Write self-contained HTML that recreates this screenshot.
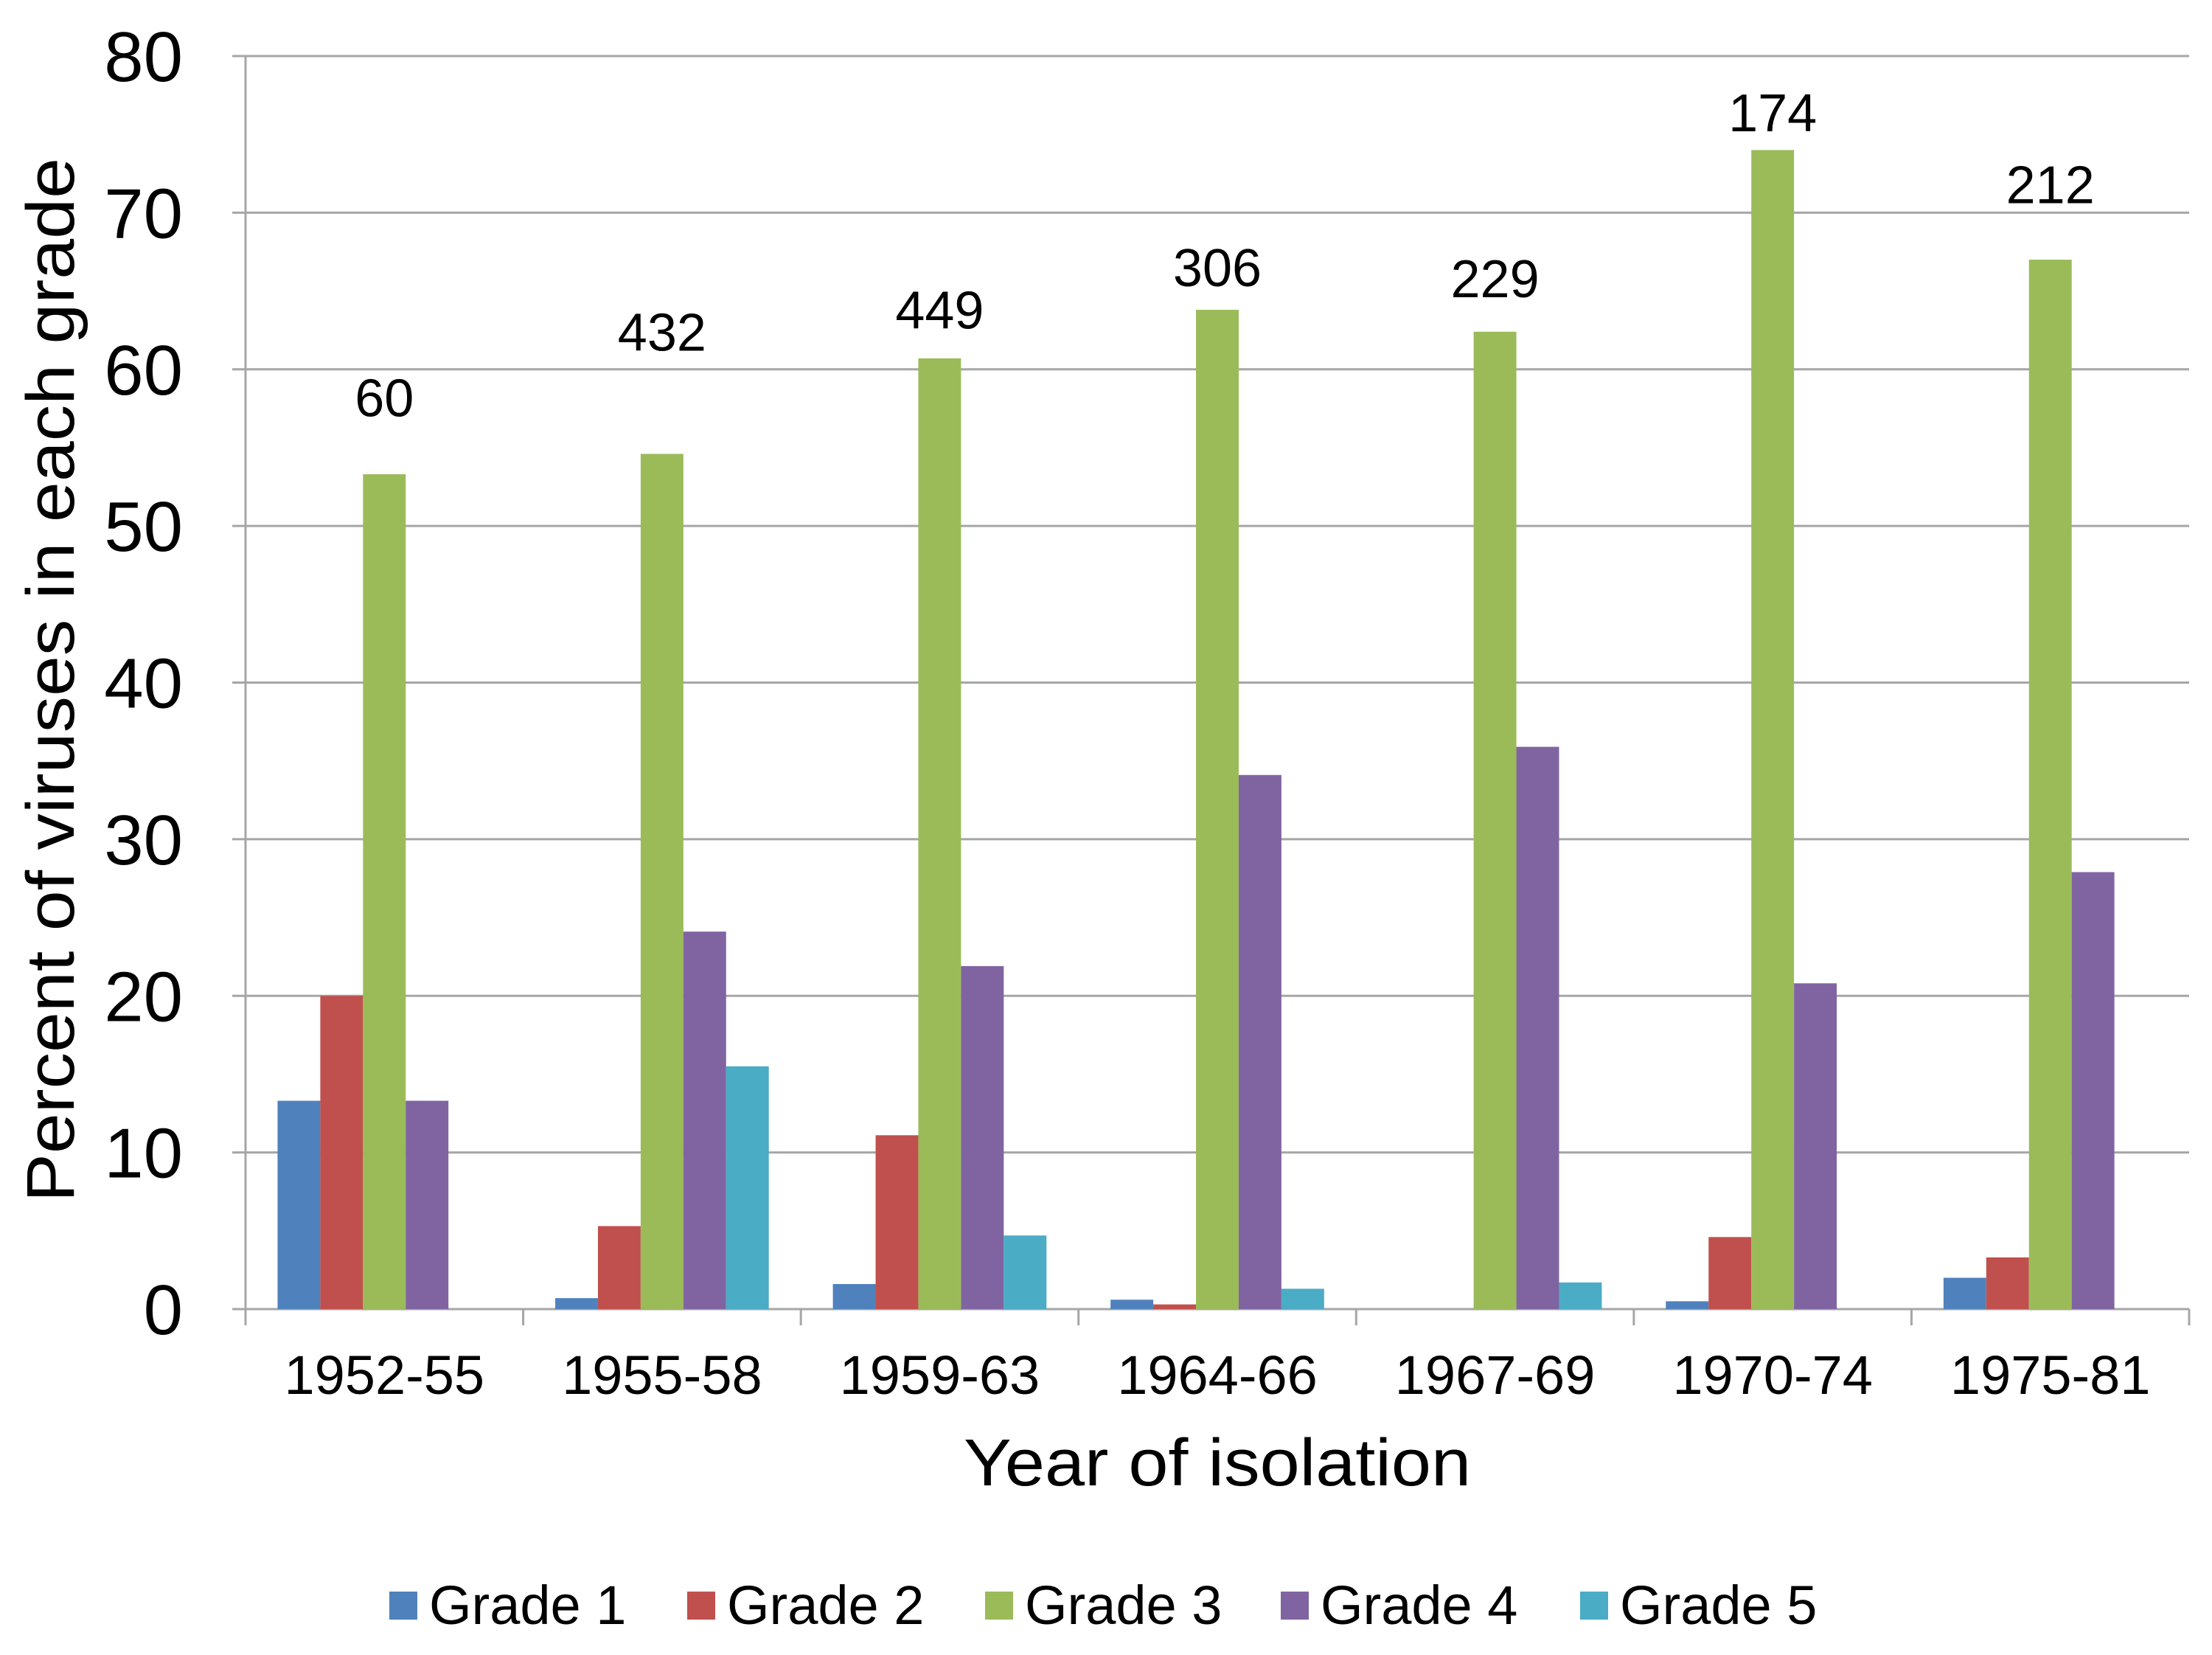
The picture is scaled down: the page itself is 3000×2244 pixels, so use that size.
<!DOCTYPE html>
<html><head><meta charset="utf-8"><style>
html,body{margin:0;padding:0;background:#fff;}
svg{display:block;font-family:"Liberation Sans",Arial,sans-serif;}
</style></head><body>
<svg id="chart" xmlns="http://www.w3.org/2000/svg" width="3000" height="2244" viewBox="0 0 3000 2244">
<rect width="3000" height="2244" fill="#fff"/>
<g id="grid"></g><g id="bars"></g><g id="labels"></g>
<text transform="translate(100,922) rotate(-90)" text-anchor="middle" font-size="92" textLength="1416" lengthAdjust="spacingAndGlyphs" fill="#000">Percent of viruses in each grade</text>
<text x="1651" y="2014" text-anchor="middle" font-size="90" textLength="688" lengthAdjust="spacingAndGlyphs" fill="#000">Year of isolation</text>
<g id="legend"></g>
</svg>
<script>
const categories = ["1952-55","1955-58","1959-63","1964-66","1967-69","1970-74","1975-81"];
const seriesNames = ["Grade 1","Grade 2","Grade 3","Grade 4","Grade 5"];
const grade1 = [13.3,0.7,1.6,0.6,0,0.5,2.0];
const grade2 = [20,5.3,11.1,0.3,0,4.6,3.3];
const grade3 = [53.3,54.6,60.7,63.8,62.4,74,67];
const grade4 = [13.3,24.1,21.9,34.1,35.9,20.8,27.9];
const grade5 = [0,15.5,4.7,1.3,1.7,0,0];
const countLabels = ["60","432","449","306","229","174","212"];
const countLabelPos = [57,61.2,62.6,65.3,64.6,75.2,70.6];
const yTicks = [0,10,20,30,40,50,60,70,80];
const colors = ["#4F81BD","#C0504D","#9BBB59","#8064A2","#4BACC6"];
const series = [grade1,grade2,grade3,grade4,grade5];

const NS="http://www.w3.org/2000/svg";
const X0=333,X1=2969,Y0=1775,Y80=76;
const yScale=v=>Y0-(v/80)*(Y0-Y80);
const catW=(X1-X0)/categories.length;
const barW=catW/6.5;
const xCat=i=>X0+i*catW;
function mk(tag,attrs,parent){const e=document.createElementNS(NS,tag);for(const k in attrs)e.setAttribute(k,attrs[k]);parent.appendChild(e);return e;}
const grid=document.getElementById('grid'),bars=document.getElementById('bars'),labels=document.getElementById('labels'),legend=document.getElementById('legend');
yTicks.forEach(t=>{
  const y=yScale(t);
  const l=mk('line',{x1:X0-18,x2:X1,y1:y,y2:y,stroke:'#a6a6a6','stroke-width':3},grid);
  
  
  const tx=mk('text',{x:248,y:y+34,'text-anchor':'end','font-size':96,fill:'#000'},labels);
  tx.textContent=t;
  
  
});
const ax=mk('line',{x1:X0,x2:X0,y1:Y80,y2:Y0+22,stroke:'#a6a6a6','stroke-width':3},grid);


for(let i=0;i<=categories.length;i++){
  const tk=mk('line',{x1:xCat(i),x2:xCat(i),y1:Y0,y2:Y0+22,stroke:'#a6a6a6','stroke-width':3},grid);
  
  
}
categories.forEach((c,i)=>{
  series.forEach((s,j)=>{
    const v=s[i]; if(v<=0) return;
    const x=xCat(i)+0.75*barW+j*barW;
    const r=mk('rect',{x:x,y:yScale(v),width:barW,height:Y0-yScale(v),fill:colors[j]},bars);
    
    
  });
  const cx=xCat(i)+catW/2;
  const cl=mk('text',{x:cx,y:1890,'text-anchor':'middle','font-size':74,fill:'#000'},labels);
  cl.textContent=c;
  
  
  const nl=mk('text',{x:xCat(i)+0.75*barW+2.5*barW,y:yScale(countLabelPos[i]),'text-anchor':'middle','font-size':72,fill:'#000'},labels);
  nl.textContent=countLabels[i];
  
  
});
const legX=[528,932,1336,1737,2143];
seriesNames.forEach((n,j)=>{
  const g=mk('g',{},legend);
  
  
  mk('rect',{x:legX[j],y:2158,width:38,height:38,fill:colors[j]},g);
  const t=mk('text',{x:legX[j]+54,y:2202,'font-size':74,fill:'#000'},g);
  t.textContent=n;
});
</script>
</body></html>
